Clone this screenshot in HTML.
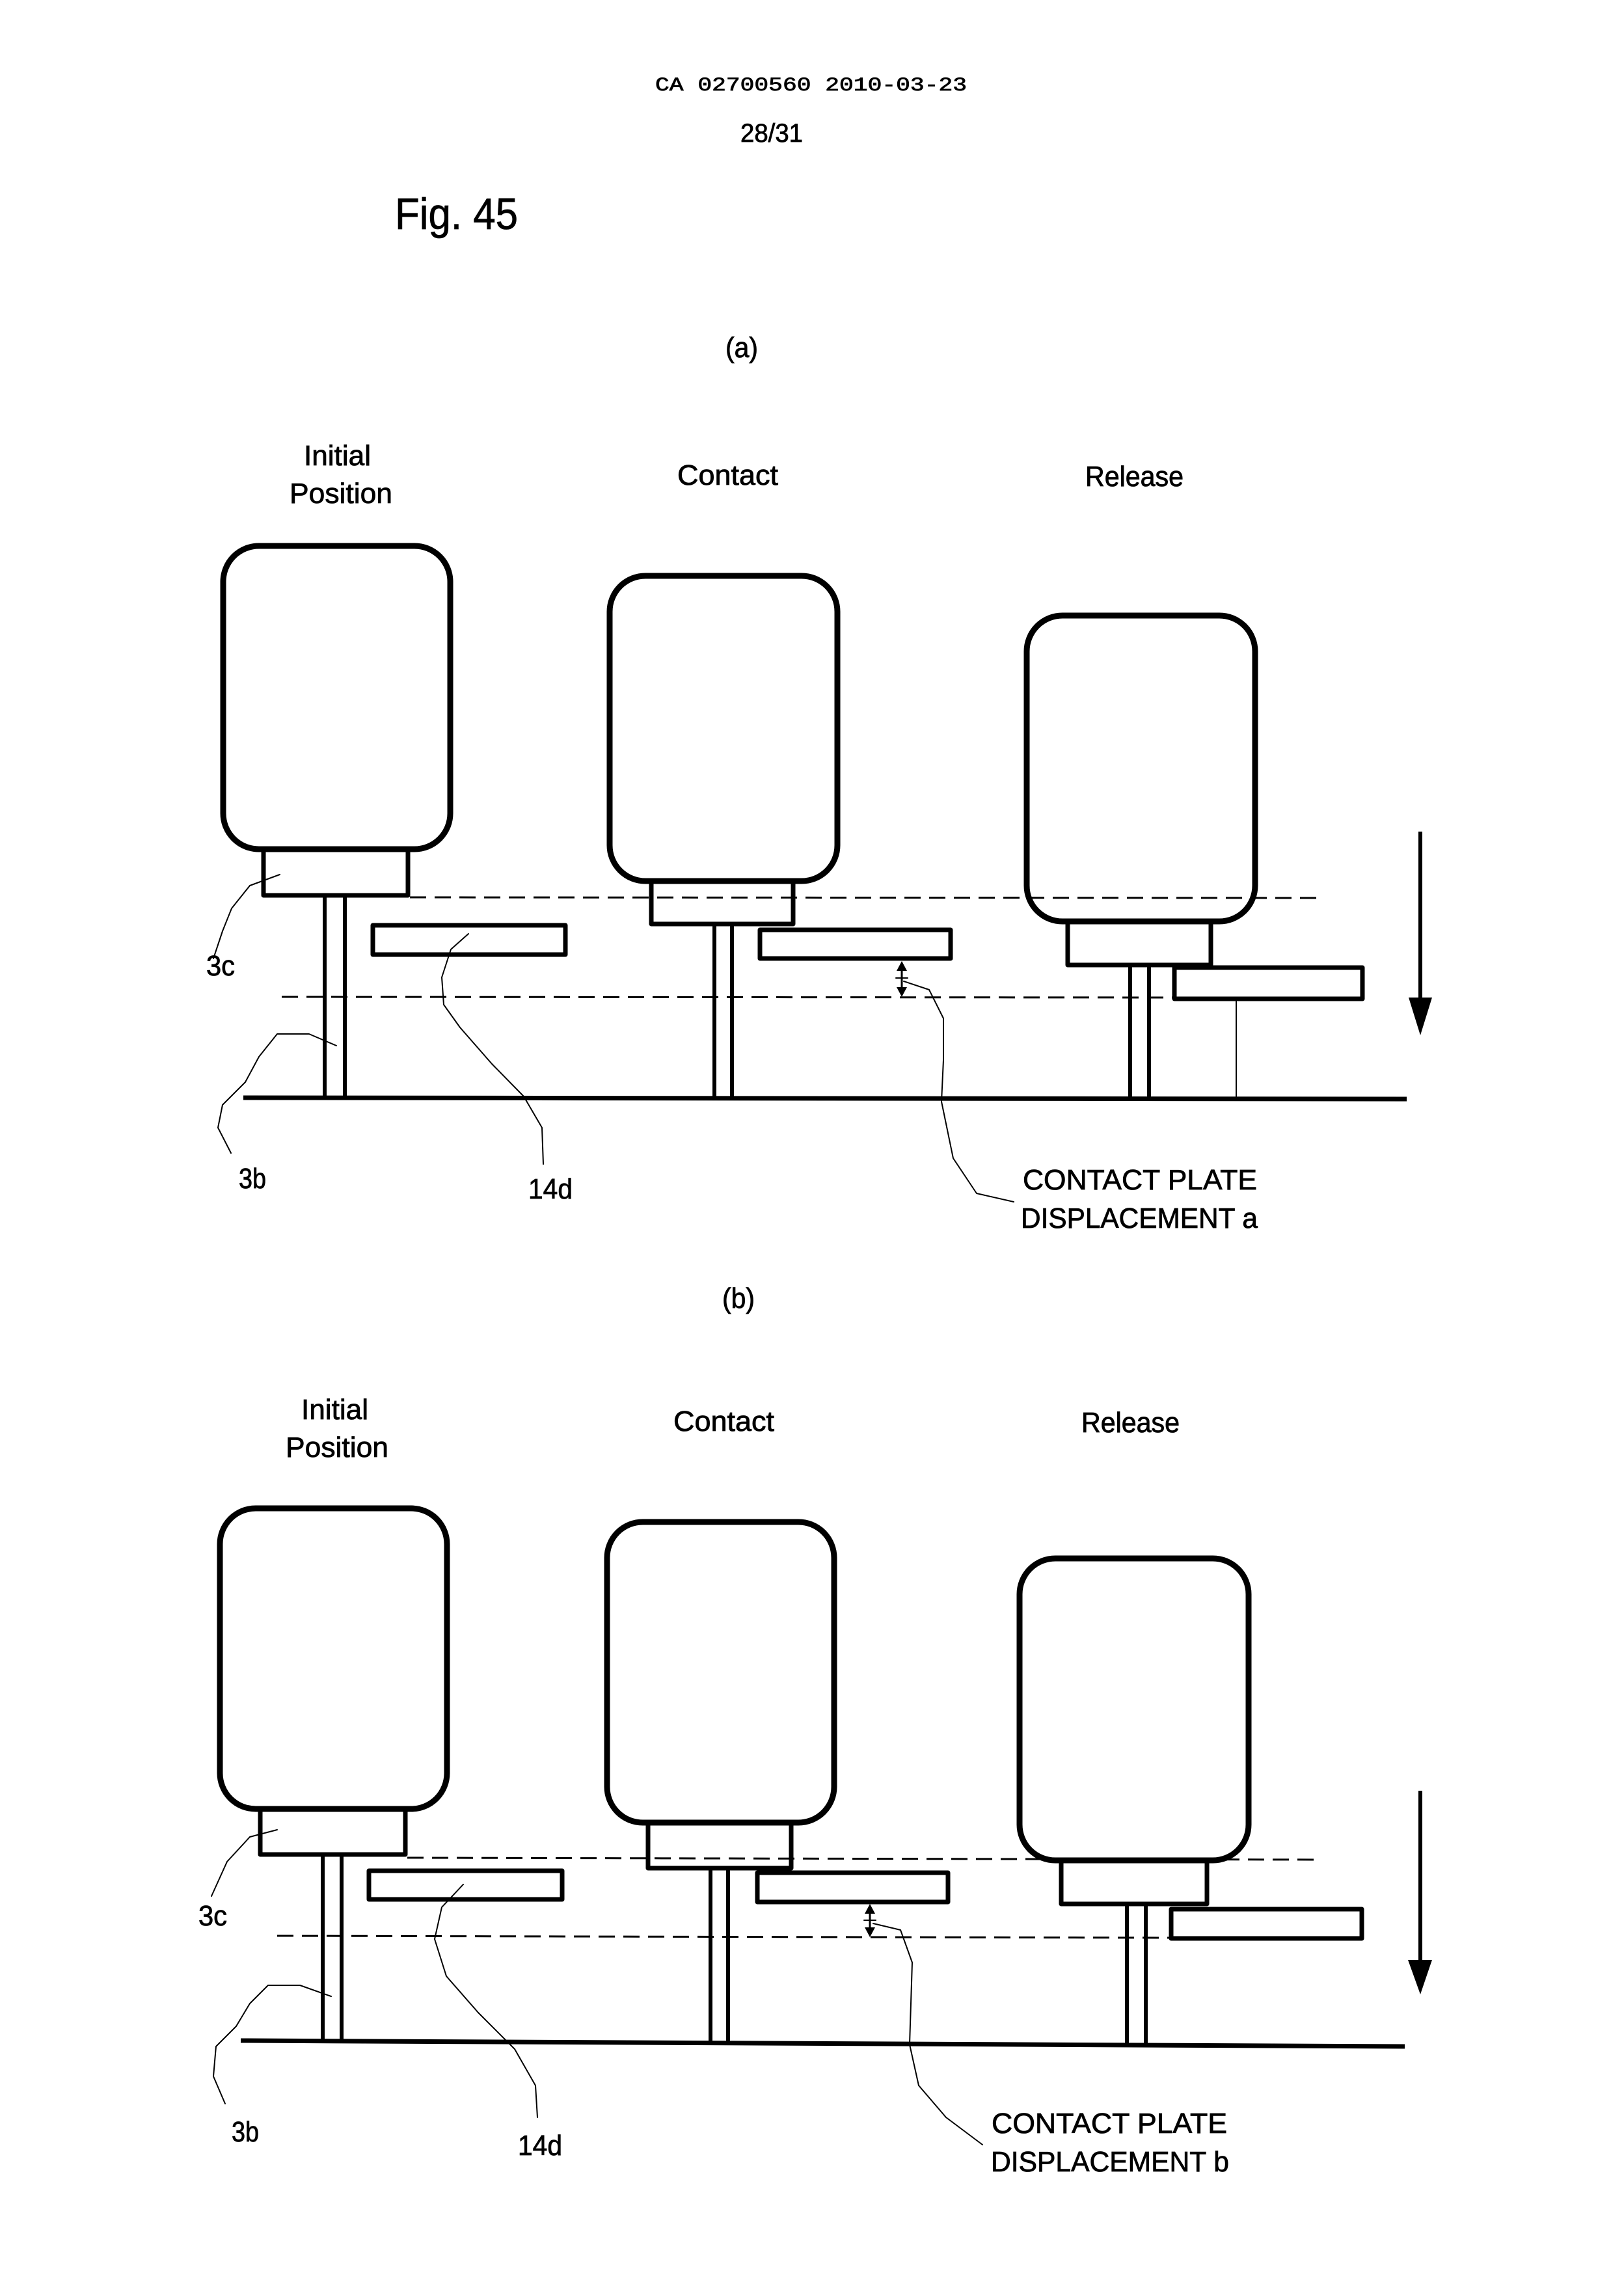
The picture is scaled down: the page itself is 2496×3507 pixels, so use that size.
<!DOCTYPE html>
<html><head><meta charset="utf-8"><style>
html,body{margin:0;padding:0;background:#fff}
svg{display:block}
text{font-family:"Liberation Sans Narrow","Liberation Sans",sans-serif;fill:#000;stroke:#000;stroke-width:0.8}
</style></head><body>
<svg width="2496" height="3507" viewBox="0 0 2496 3507" xmlns="http://www.w3.org/2000/svg">
<rect width="2496" height="3507" fill="#fff"/>
<text x="1007" y="139" style="font-family:'Liberation Mono',monospace" font-size="30" textLength="479" lengthAdjust="spacingAndGlyphs">CA 02700560 2010-03-23</text>
<text x="1138" y="218" font-size="40" textLength="96" lengthAdjust="spacingAndGlyphs">28/31</text>
<text x="607" y="352" font-size="68" textLength="189" lengthAdjust="spacingAndGlyphs">Fig. 45</text>
<text x="1115" y="549" font-size="44" textLength="50" lengthAdjust="spacingAndGlyphs">(a)</text>
<text x="1110" y="2010" font-size="44" textLength="50" lengthAdjust="spacingAndGlyphs">(b)</text>

<g fill="none" stroke="#000" stroke-linejoin="round" stroke-linecap="round">
<!-- Panel A -->
<g stroke-width="9">
<rect x="343" y="839" width="349" height="466" rx="55"/>
<rect x="937" y="885" width="350" height="469" rx="55"/>
<rect x="1578" y="946" width="351" height="470" rx="55"/>
</g>
<g stroke-width="7" stroke-linecap="butt">
<rect x="405" y="1305" width="222" height="71"/>
<rect x="1001" y="1354" width="218" height="66"/>
<rect x="1641" y="1416" width="220" height="67"/>
<rect x="573" y="1422" width="296" height="45"/>
<rect x="1168" y="1429" width="293" height="44"/>
<rect x="1805" y="1487" width="289" height="48"/>
<line x1="374" y1="1687" x2="2162" y2="1689"/>
</g>
<g stroke-width="6" stroke-linecap="butt">
<line x1="499" y1="1379" x2="499" y2="1688"/><line x1="530" y1="1379" x2="530" y2="1688"/>
<line x1="1098" y1="1423" x2="1098" y2="1688"/><line x1="1125" y1="1423" x2="1125" y2="1688"/>
<line x1="1737" y1="1486" x2="1737" y2="1688"/><line x1="1766" y1="1486" x2="1766" y2="1688"/>
<line x1="2183" y1="1278" x2="2183" y2="1540"/>
</g>
<line x1="1900" y1="1538" x2="1900" y2="1688" stroke-width="2"/>
<g stroke-width="3" stroke-dasharray="25 13" stroke-linecap="butt">
<line x1="630" y1="1379" x2="2033" y2="1380"/>
<line x1="433" y1="1532" x2="1804" y2="1533"/>
</g>
<line x1="1386" y1="1485" x2="1386" y2="1525" stroke-width="3"/>
<line x1="1377" y1="1503" x2="1395" y2="1503" stroke-width="2"/>
<g stroke-width="2">
<polyline points="430,1344 384,1361 356,1396 342,1431 328,1473"/>
<polyline points="517,1607 475,1589 426,1589 398,1624 377,1663 342,1698 335,1733 355,1772"/>
<polyline points="720,1435 693,1459 679,1502 682,1544 707,1579 756,1635 805,1685 833,1733 835,1789"/>
<polyline points="1389,1508 1428,1521 1450,1565 1450,1629 1447,1693 1465,1780 1501,1834 1558,1847"/>
</g>

<!-- Panel B -->
<g stroke-width="9">
<rect x="338" y="2318" width="349" height="462" rx="55"/>
<rect x="933" y="2339" width="349" height="462" rx="55"/>
<rect x="1567" y="2395" width="352" height="464" rx="55"/>
</g>
<g stroke-width="7" stroke-linecap="butt">
<rect x="400" y="2780" width="223" height="70"/>
<rect x="996" y="2801" width="220" height="70"/>
<rect x="1631" y="2859" width="224" height="67"/>
<rect x="567" y="2875" width="297" height="44"/>
<rect x="1164" y="2878" width="293" height="45"/>
<rect x="1800" y="2934" width="293" height="45"/>
<line x1="370" y1="3136" x2="2159" y2="3145"/>
</g>
<g stroke-width="6" stroke-linecap="butt">
<line x1="496" y1="2853" x2="496" y2="3138"/><line x1="525" y1="2853" x2="525" y2="3138"/>
<line x1="1092" y1="2874" x2="1092" y2="3141"/><line x1="1119" y1="2874" x2="1119" y2="3141"/>
<line x1="1732" y1="2929" x2="1732" y2="3144"/><line x1="1761" y1="2929" x2="1761" y2="3144"/>
<line x1="2183" y1="2752" x2="2183" y2="3020"/>
</g>
<g stroke-width="3" stroke-dasharray="25 13" stroke-linecap="butt">
<line x1="626" y1="2855" x2="2030" y2="2858"/>
<line x1="426" y1="2975" x2="1797" y2="2978"/>
</g>
<line x1="1337" y1="2934" x2="1337" y2="2970" stroke-width="3"/>
<line x1="1328" y1="2951" x2="1346" y2="2951" stroke-width="2"/>
<g stroke-width="2">
<polyline points="426,2812 384,2823 349,2861 325,2914"/>
<polyline points="509,3068 461,3051 412,3051 384,3079 363,3114 332,3145 328,3191 346,3233"/>
<polyline points="712,2896 679,2931 668,2980 686,3037 735,3093 791,3149 823,3205 826,3254"/>
<polyline points="1342,2956 1384,2966 1402,3016 1398,3142 1412,3205 1454,3254 1510,3296"/>
</g>
</g>

<g fill="#000">
<polygon points="2165,1533 2201,1533 2183,1591"/>
<polygon points="1386,1477 1378,1492 1394,1492"/>
<polygon points="1386,1532 1378,1517 1394,1517"/>
<polygon points="2164,3012 2201,3012 2183,3065"/>
<polygon points="1337,2926 1329,2941 1345,2941"/>
<polygon points="1337,2977 1329,2962 1345,2962"/>
</g>

<!-- Labels A -->
<text x="467" y="715" font-size="44" textLength="103" lengthAdjust="spacingAndGlyphs">Initial</text>
<text x="445" y="773" font-size="44" textLength="158" lengthAdjust="spacingAndGlyphs">Position</text>
<text x="1041" y="745" font-size="44" textLength="155" lengthAdjust="spacingAndGlyphs">Contact</text>
<text x="1668" y="747" font-size="44" textLength="151" lengthAdjust="spacingAndGlyphs">Release</text>
<text x="317" y="1499" font-size="44" textLength="44" lengthAdjust="spacingAndGlyphs">3c</text>
<text x="367" y="1826" font-size="44" textLength="42" lengthAdjust="spacingAndGlyphs">3b</text>
<text x="812" y="1842" font-size="44" textLength="68" lengthAdjust="spacingAndGlyphs">14d</text>
<text x="1572" y="1828" font-size="44" textLength="360" lengthAdjust="spacingAndGlyphs">CONTACT PLATE</text>
<text x="1569" y="1887" font-size="44" textLength="364" lengthAdjust="spacingAndGlyphs">DISPLACEMENT a</text>

<!-- Labels B -->
<text x="463" y="2181" font-size="44" textLength="103" lengthAdjust="spacingAndGlyphs">Initial</text>
<text x="439" y="2239" font-size="44" textLength="158" lengthAdjust="spacingAndGlyphs">Position</text>
<text x="1035" y="2199" font-size="44" textLength="155" lengthAdjust="spacingAndGlyphs">Contact</text>
<text x="1662" y="2201" font-size="44" textLength="151" lengthAdjust="spacingAndGlyphs">Release</text>
<text x="305" y="2959" font-size="44" textLength="44" lengthAdjust="spacingAndGlyphs">3c</text>
<text x="356" y="3291" font-size="44" textLength="42" lengthAdjust="spacingAndGlyphs">3b</text>
<text x="796" y="3312" font-size="44" textLength="68" lengthAdjust="spacingAndGlyphs">14d</text>
<text x="1524" y="3278" font-size="44" textLength="362" lengthAdjust="spacingAndGlyphs">CONTACT PLATE</text>
<text x="1523" y="3337" font-size="44" textLength="366" lengthAdjust="spacingAndGlyphs">DISPLACEMENT b</text>
</svg>
</body></html>
